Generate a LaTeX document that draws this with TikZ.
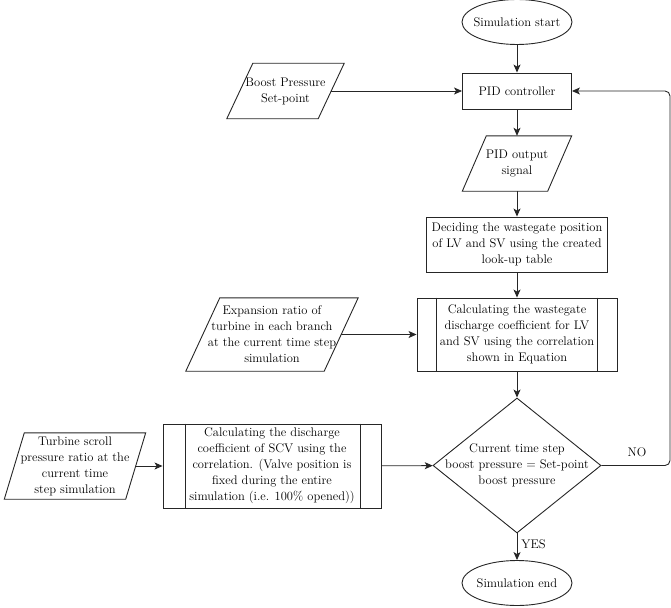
\documentclass[tikz,border=0pt]{standalone}
\usepackage{fontspec}
\usetikzlibrary{shapes.geometric,arrows.meta}
\newcommand\drawpara[2]{\draw[ln] ([xshift=#2]#1.north west) -- ([xshift=#2]#1.north east) -- ([xshift=-#2]#1.south east) -- ([xshift=-#2]#1.south west) -- cycle;}
\begin{document}
\begin{tikzpicture}[x=1pt,y=-1pt,
  every node/.style={font=\rmfamily\fontsize{12.5}{16}\selectfont, inner sep=1pt},
  ln/.style={draw=black!85, line width=0.9pt},
  arr/.style={ln, -{Stealth[length=8pt,width=7pt,inset=2pt]}},
  procbox/.style={rectangle, ln, align=center},
  parabox/.style={rectangle, align=center, inner sep=0pt},
  ellbox/.style={ellipse, ln, minimum width=110pt, minimum height=45pt, inner sep=0pt},
  lbl/.style={inner sep=0pt}
]
\useasboundingbox (0,0) rectangle (671,607);

\node[ellbox] (start) at (517,22) {\makebox[0pt]{Simulation start}};
\node[procbox, minimum width=109pt, minimum height=36pt] (pid) at (517,91) {PID controller};
\node[parabox, minimum width=91pt, minimum height=55pt] (bsp) at (285.5,91) {Boost Pressure\\Set-point};
\node[parabox, minimum width=85pt, minimum height=55pt] (pidout) at (517,163.5) {PID output\\signal};
\node[procbox, minimum width=181pt, minimum height=55pt] (decide) at (517,244.5) {Deciding the wastegate position\\of LV and SV using the created\\look-up table};
\node[procbox, minimum width=200pt, minimum height=73pt] (wg) at (517,334.5) {Calculating the wastegate\\discharge coefficient for LV\\and SV using the correlation\\shown in Equation};
\node[parabox, minimum width=138pt, minimum height=73pt] (exp) at (272,334.5) {Expansion ratio of\\turbine in each branch\\at the current time step\\simulation};
\node[diamond, ln, minimum width=168pt, minimum height=135pt, inner sep=0pt] (dec) at (517,465.5) {};
\node[align=center] (dectext) at (dec.center) {Current time step\\boost pressure = Set-point\\boost pressure};
\node[procbox, minimum width=218pt, minimum height=84pt] (scv) at (272,466) {Calculating the discharge\\coefficient of SCV using the\\correlation. (Valve position is\\fixed during the entire\\simulation (i.e. 100\% opened))};
\node[parabox, minimum width=121pt, minimum height=66pt] (tur) at (75,466) {Turbine scroll\\pressure ratio at the\\current time\\step simulation};
\node[ellbox] (end) at (517,583) {\makebox[0pt]{Simulation end}};

\drawpara{bsp}{13pt}
\drawpara{pidout}{12pt}
\drawpara{exp}{17pt}
\drawpara{tur}{10pt}

\draw[ln] ([xshift=20pt]wg.north west) -- ([xshift=20pt]wg.south west);
\draw[ln] ([xshift=-20pt]wg.north east) -- ([xshift=-20pt]wg.south east);
\draw[ln] ([xshift=23pt]scv.north west) -- ([xshift=23pt]scv.south west);
\draw[ln] ([xshift=-21pt]scv.north east) -- ([xshift=-21pt]scv.south east);

\draw[arr] (start) -- (pid);
\draw[arr] (bsp) -- (pid);
\draw[arr] (pid) -- (pidout);
\draw[arr] (pidout) -- (decide);
\draw[arr] (decide) -- (wg);
\draw[arr] (exp) -- (wg);
\draw[arr] (wg) -- (dec);
\draw[arr] (tur) -- (scv);
\draw[arr] (scv) -- (dec);
\draw[arr] (dec) -- node[lbl, right=4pt, pos=0.4] (yes) {YES} (end);
\coordinate (loopx) at (670,0);
\draw[arr, rounded corners=5pt] (dec.east) -- (dec.east -| loopx) -- (pid.east -| loopx) -- (pid.east);
\node[lbl] (no) at (637,452) {NO};
\end{tikzpicture}
\end{document}
